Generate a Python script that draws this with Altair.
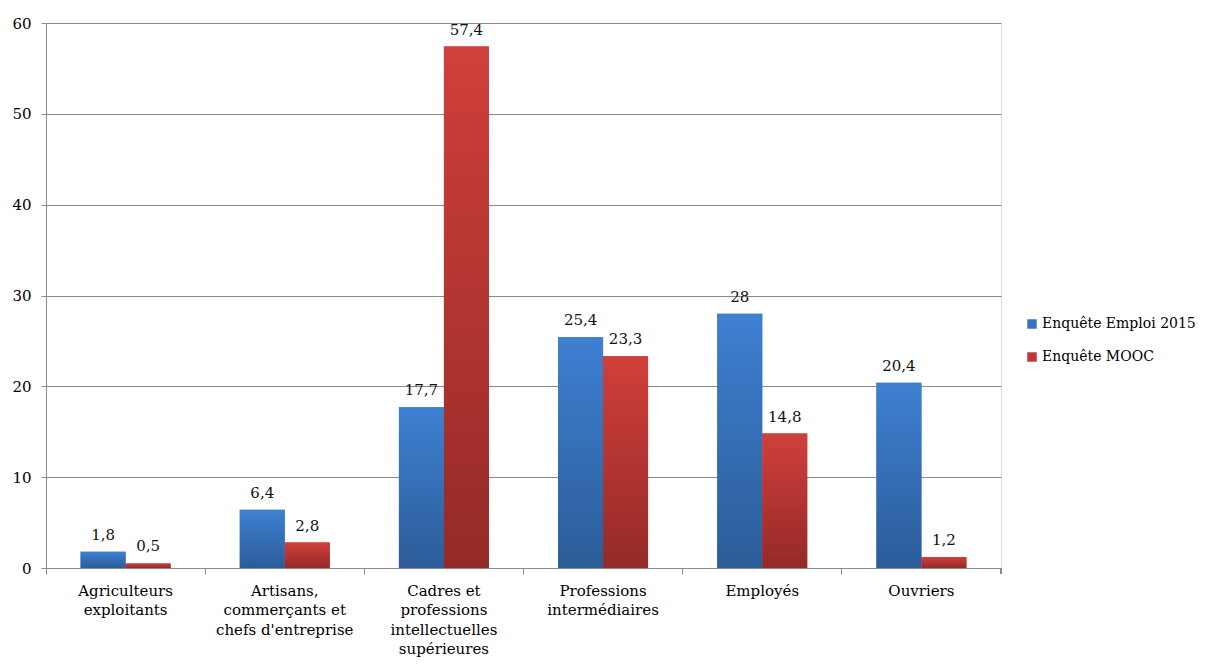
import altair as alt
import pandas as pd

categories = [
    "Agriculteurs\nexploitants",
    "Artisans,\ncommerçants et\nchefs d'entreprise",
    "Cadres et\nprofessions\nintellectuelles\nsupérieures",
    "Professions\nintermédiaires",
    "Employés",
    "Ouvriers",
]
series = ["Enquête Emploi 2015", "Enquête MOOC"]
emploi_2015 = [1.8, 6.4, 17.7, 25.4, 28, 20.4]
mooc = [0.5, 2.8, 57.4, 23.3, 14.8, 1.2]
y_ticks = [0, 10, 20, 30, 40, 50, 60]

rows = []
for c, a, b in zip(categories, emploi_2015, mooc):
    rows.append({"cat": c, "series": series[0], "value": a})
    rows.append({"cat": c, "series": series[1], "value": b})
df = pd.DataFrame(rows)

FONT = "DejaVu Serif"
FS = 15
GRID = "#8a8a8a"

grad_blue = alt.LinearGradient(
    gradient="linear", x1=0, y1=0, x2=0, y2=1,
    stops=[alt.GradientStop(offset=0, color="#3e80d2"),
           alt.GradientStop(offset=1, color="#2b5c98")],
)
grad_red = alt.LinearGradient(
    gradient="linear", x1=0, y1=0, x2=0, y2=1,
    stops=[alt.GradientStop(offset=0, color="#d03f3b"),
           alt.GradientStop(offset=1, color="#942a27")],
)

x_enc = alt.X(
    "cat:N", sort=categories, title=None,
    scale=alt.Scale(paddingInner=0, paddingOuter=0),
    axis=alt.Axis(
        labelAngle=0, labelExpr="split(datum.label, '\\n')",
        labelFont=FONT, labelFontSize=FS, labelColor="#000000",
        labelLineHeight=19.5, labelPadding=9, labelLimit=200,
        bandPosition=0, ticks=True, tickSize=6, tickColor=GRID,
        domainColor=GRID, grid=False,
    ),
)
xoff_enc = alt.XOffset(
    "series:N", sort=series,
    scale=alt.Scale(paddingInner=0, paddingOuter=0.769),
)
y_enc = alt.Y(
    "value:Q", title=None,
    scale=alt.Scale(domain=[0, 60], nice=False),
    axis=alt.Axis(
        values=y_ticks, labelFont=FONT, labelFontSize=FS, labelColor="#000000",
        labelPadding=10, tickSize=5, tickColor=GRID, domainColor=GRID,
        gridColor=GRID, gridWidth=1, grid=True,
    ),
)

base = alt.Chart(df)

solid = base.mark_bar().encode(
    x=x_enc, xOffset=xoff_enc, y=y_enc,
    color=alt.Color(
        "series:N", sort=series,
        scale=alt.Scale(domain=series, range=["#3a74c0", "#c0393a"]),
        legend=alt.Legend(
            title=None, orient="none", legendX=979, legendY=294,
            symbolType="square", symbolSize=90, symbolStrokeWidth=0,
            labelFont=FONT, labelFontSize=14, labelColor="#000000",
            rowPadding=19, labelOffset=3, padding=0, labelLimit=300,
        ),
    ),
)

gradient = base.mark_bar().encode(
    x=alt.X("cat:N", sort=categories),
    xOffset=alt.XOffset("series:N", sort=series),
    y=alt.Y("value:Q"),
    fill=alt.condition(
        alt.datum.series == series[0], alt.value(grad_blue), alt.value(grad_red)
    ),
)

labels = base.transform_calculate(
    lab="replace(toString(datum.value), '.', ',')"
).mark_text(
    font=FONT, fontSize=FS, color="#111111", baseline="alphabetic", dy=-12,
).encode(
    x=alt.X("cat:N", sort=categories),
    xOffset=alt.XOffset("series:N", sort=series),
    y=alt.Y("value:Q"),
    text="lab:N",
)

end_tick = base.mark_rule(color=GRID).encode(
    x=alt.value(955), y=alt.value(545), y2=alt.value(551)
)

chart = alt.layer(solid, gradient, labels, end_tick).properties(
    width=955, height=545,
    autosize=alt.AutoSizeParams(type="none"),
    padding={"left": 38, "top": 15, "right": 201, "bottom": 95},
).configure_view(stroke=None).configure(background="white", font=FONT)

chart.save("out.html", embed_options={"renderer": "svg", "actions": False})
